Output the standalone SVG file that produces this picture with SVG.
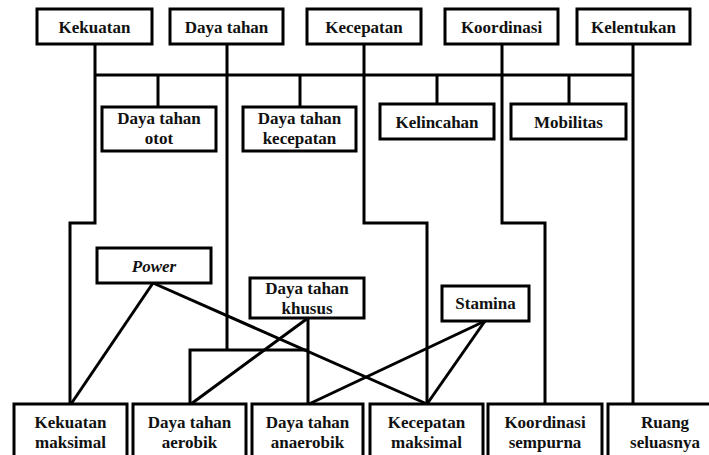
<svg xmlns="http://www.w3.org/2000/svg" width="709" height="455" viewBox="0 0 709 455">
<style>
.box{fill:#fff;stroke:#000;stroke-width:3}
.t{font-family:'Liberation Serif','Times New Roman',Times,'DejaVu Serif',serif;font-weight:bold;font-size:17px;fill:#111;text-anchor:middle}
.i{font-style:italic}
.ln{fill:none;stroke:#000;stroke-width:3;stroke-linejoin:miter}
</style>
<rect width="709" height="455" fill="#fff"/>
<g id="connectors">
<polyline class="ln" points="95,44 95,223 70,223 70,404"/>
<line class="ln" x1="227" y1="44" x2="227" y2="350"/>
<polyline class="ln" points="364,44 364,223 427,223 427,404"/>
<polyline class="ln" points="502,44 502,223 545,223 545,404"/>
<line class="ln" x1="633" y1="44" x2="633" y2="404"/>
<line class="ln" x1="95" y1="75" x2="633" y2="75"/>
<line class="ln" x1="158" y1="75" x2="158" y2="107"/>
<line class="ln" x1="300" y1="75" x2="300" y2="107"/>
<line class="ln" x1="437" y1="75" x2="437" y2="104"/>
<line class="ln" x1="569" y1="75" x2="569" y2="104"/>
<line class="ln" x1="153" y1="283" x2="71" y2="404"/>
<line class="ln" x1="153" y1="283" x2="427" y2="404"/>
<line class="ln" x1="308" y1="318" x2="308" y2="404"/>
<line class="ln" x1="308" y1="318" x2="191" y2="404"/>
<polyline class="ln" points="190,404 190,350 308,350"/>
<line class="ln" x1="485" y1="321" x2="427" y2="404"/>
<line class="ln" x1="485" y1="321" x2="309" y2="404"/>
</g>
<g id="kekuatan"><rect class="box" x="37" y="9" width="115" height="35"/><text class="t" x="94.5" y="33">Kekuatan</text></g>
<g id="daya-tahan"><rect class="box" x="170" y="9" width="113" height="35"/><text class="t" x="226.5" y="33">Daya tahan</text></g>
<g id="kecepatan"><rect class="box" x="307" y="9" width="114" height="35"/><text class="t" x="364" y="33">Kecepatan</text></g>
<g id="koordinasi"><rect class="box" x="445" y="9" width="113" height="35"/><text class="t" x="501.5" y="33">Koordinasi</text></g>
<g id="kelentukan"><rect class="box" x="577" y="9" width="113" height="35"/><text class="t" x="633.5" y="33">Kelentukan</text></g>
<g id="daya-tahan-otot"><rect class="box" x="102" y="107" width="114" height="44"/><text class="t" x="159" y="124">Daya tahan</text><text class="t" x="159" y="144">otot</text></g>
<g id="daya-tahan-kecepatan"><rect class="box" x="243" y="107" width="113" height="44"/><text class="t" x="299.5" y="124">Daya tahan</text><text class="t" x="299.5" y="144">kecepatan</text></g>
<g id="kelincahan"><rect class="box" x="380" y="104" width="114" height="35"/><text class="t" x="437" y="128">Kelincahan</text></g>
<g id="mobilitas"><rect class="box" x="511" y="104" width="115" height="35"/><text class="t" x="568.5" y="128">Mobilitas</text></g>
<g id="power"><rect class="box" x="97" y="248" width="114" height="35"/><text class="t i" x="154" y="272">Power</text></g>
<g id="daya-tahan-khusus"><rect class="box" x="250" y="278" width="114" height="40"/><text class="t" x="307" y="294">Daya tahan</text><text class="t" x="307" y="314">khusus</text></g>
<g id="stamina"><rect class="box" x="442" y="286" width="87" height="35"/><text class="t" x="485.5" y="309">Stamina</text></g>
<g id="kekuatan-maksimal"><rect class="box" x="14" y="404" width="113" height="60"/><text class="t" x="70.5" y="428">Kekuatan</text><text class="t" x="70.5" y="448">maksimal</text></g>
<g id="daya-tahan-aerobik"><rect class="box" x="133" y="404" width="113" height="60"/><text class="t" x="189.5" y="428">Daya tahan</text><text class="t" x="189.5" y="448">aerobik</text></g>
<g id="daya-tahan-anaerobik"><rect class="box" x="252" y="404" width="111" height="60"/><text class="t" x="307.5" y="428">Daya tahan</text><text class="t" x="307.5" y="448">anaerobik</text></g>
<g id="kecepatan-maksimal"><rect class="box" x="370" y="404" width="113" height="60"/><text class="t" x="426.5" y="428">Kecepatan</text><text class="t" x="426.5" y="448">maksimal</text></g>
<g id="koordinasi-sempurna"><rect class="box" x="488" y="404" width="114" height="60"/><text class="t" x="545" y="428">Koordinasi</text><text class="t" x="545" y="448">sempurna</text></g>
<g id="ruang-seluasnya"><rect class="box" x="608" y="404" width="110" height="60"/><text class="t" x="665" y="428">Ruang</text><text class="t" x="665" y="448">seluasnya</text></g>
</svg>
